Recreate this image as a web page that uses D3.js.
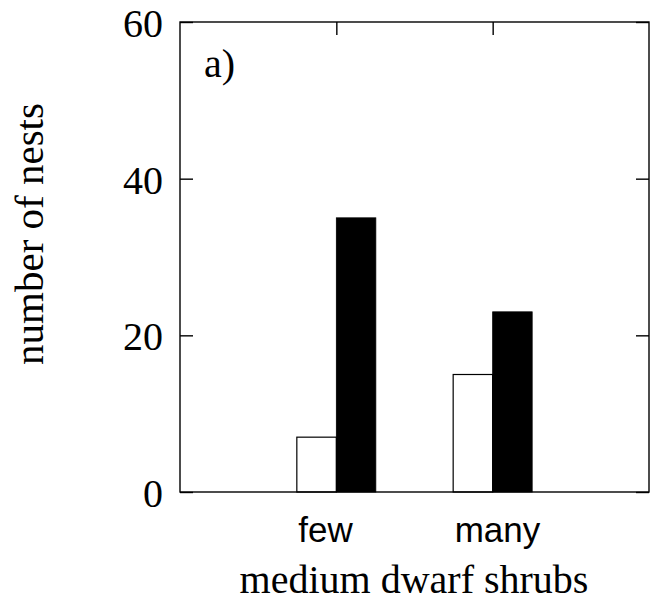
<!DOCTYPE html>
<html>
<head>
<meta charset="utf-8">
<script src="https://cdn.jsdelivr.net/npm/d3@7"></script>
<style>
html,body{margin:0;padding:0;background:#fff;}
svg{display:block;}
</style>
</head>
<body>
<svg id="chart" width="651" height="602"></svg>
<script>
const categories = ["few", "many"];
const categoryPos = [1, 2];
const openValues = [7, 15];
const filledValues = [35, 23];
const yTicks = [0, 20, 40, 60];
const panelLabel = "a)";
const xTitle = "medium dwarf shrubs";
const yTitle = "number of nests";

const svg = d3.select("#chart");
const mLeft = 180, mRight = 649, mTop = 22, mBottom = 492;
const x = d3.scaleLinear().domain([0, 3]).range([mLeft, mRight]);
const y = d3.scaleLinear().domain([0, 60]).range([mBottom, mTop]);
const barW = 39.5;
const serif = "'Liberation Serif', 'Times New Roman', serif";
const sans = "'Liberation Sans', Arial, sans-serif";

// bars
const g = svg.append("g");
g.selectAll(".open").data(categories).join("rect")
  .attr("x", (d, i) => x(categoryPos[i]) - barW)
  .attr("y", (d, i) => y(openValues[i]))
  .attr("width", barW)
  .attr("height", (d, i) => y(0) - y(openValues[i]))
  .attr("fill", "#fff").attr("stroke", "#000").attr("stroke-width", 1.2);
g.selectAll(".filled").data(categories).join("rect")
  .attr("x", (d, i) => x(categoryPos[i]))
  .attr("y", (d, i) => y(filledValues[i]))
  .attr("width", barW)
  .attr("height", (d, i) => y(0) - y(filledValues[i]))
  .attr("fill", "#000").attr("stroke", "#000").attr("stroke-width", 0.8);

// frame
svg.append("rect").attr("x", mLeft).attr("y", mTop)
  .attr("width", mRight - mLeft).attr("height", mBottom - mTop)
  .attr("fill", "none").attr("stroke", "#000").attr("stroke-width", 1.4);

// ticks (inward)
const tl = 13;
const yl = d3.axisLeft(y).tickValues(yTicks).tickSize(-tl).tickFormat("");
const yr = d3.axisRight(y).tickValues(yTicks).tickSize(-tl).tickFormat("");
const xt = d3.axisTop(x).tickValues(categoryPos).tickSize(-tl).tickFormat("");
[[yl, `translate(${mLeft},0)`], [yr, `translate(${mRight},0)`], [xt, `translate(0,${mTop})`]].forEach(([ax, tr]) => {
  const a = svg.append("g").attr("transform", tr).call(ax);
  a.select(".domain").remove();
  a.selectAll("line").attr("stroke", "#000").attr("stroke-width", 1.4);
});

// y tick labels
svg.append("g").selectAll("text").data(yTicks).join("text")
  .attr("x", mLeft - 17).attr("y", d => y(d) + 15)
  .attr("text-anchor", "end")
  .attr("font-family", serif).attr("font-size", 40)
  .text(d => d);

// category labels
svg.append("g").selectAll("text").data(categories).join("text")
  .attr("x", (d, i) => x(categoryPos[i]) - 38)
  .attr("y", 542)
  .attr("font-family", sans).attr("font-size", 35)
  .text(d => d);

// panel label
svg.append("text").attr("x", 204).attr("y", 77)
  .attr("font-family", serif).attr("font-size", 40).text(panelLabel);

// axis titles
svg.append("text").attr("x", 414).attr("y", 593)
  .attr("text-anchor", "middle")
  .attr("font-family", serif).attr("font-size", 40).text(xTitle);
svg.append("text").attr("transform", "translate(43,234) rotate(-90)")
  .attr("text-anchor", "middle")
  .attr("font-family", serif).attr("font-size", 41).text(yTitle);
</script>
</body>
</html>
